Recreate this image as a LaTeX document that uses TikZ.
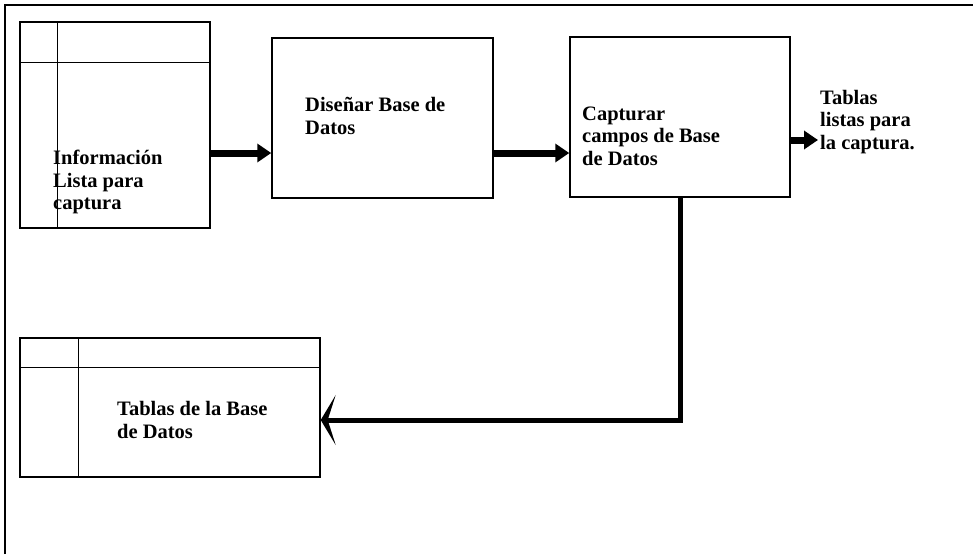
\documentclass[tikz,border=0pt]{standalone}
\usepackage{fontspec}
\setmainfont{Liberation Serif}
\usetikzlibrary{arrows.meta,positioning,calc}
\tikzset{
  procbox/.style={draw=black, line width=1.5pt, inner sep=0pt},
  tablebox/.style={draw=black, line width=1.4pt, inner sep=0pt},
  divider/.style={line width=1pt},
  lbl/.style={align=left, inner sep=0pt, font=\bfseries\fontsize{20.5}{22.5}\selectfont},
  bigarrow/.style={-{Triangle[length=14pt,width=18pt]}, line width=7pt},
  backarrow/.style={-{Stealth[length=15pt,width=50pt,inset=8pt]}, line width=5pt},
  frameline/.style={line width=1.3pt}
}

\begin{document}
\begin{tikzpicture}[x=1pt,y=-1pt]
\useasboundingbox (0,0) rectangle (973,554);
\draw[frameline] (5,554) -- (5,5) -- (973,5);
% tablas
\node[tablebox, minimum width=190pt, minimum height=206pt] (tab1) at (115,125) {};
\draw[divider] (57,22) -- (57,228);
\draw[divider] (20,62) -- (210,62);
\node[lbl, anchor=west] (txt1) at (53,182) {Información\\Lista para\\captura};
\node[tablebox, minimum width=300pt, minimum height=139pt] (tab2) at (170,407.5) {};
\draw[divider] (78,338) -- (78,477);
\draw[divider] (20,367) -- (320,367);
\node[lbl, anchor=west] (txt2) at (117,420) {Tablas de la Base\\de Datos};
% procesos
\node[procbox, minimum width=221pt, minimum height=160pt] (box2) at (382.5,118) {};
\node[lbl, anchor=west] (txt3) at (305,116) {Diseñar Base de\\Datos};
\node[procbox, minimum width=220pt, minimum height=160pt] (box3) at (680,117) {};
\node[lbl, anchor=west] (txt4) at (582,136) {Capturar\\campos de Base\\de Datos};
\node[lbl, anchor=west] (out) at (820,122) {Tablas\\listas para\\la captura.};
% flechas
\draw[bigarrow] (tab1.east |- 0,153) -- (box2.west |- 0,153);
\draw[bigarrow] (box2.east |- 0,153) -- (box3.west |- 0,153);
\draw[bigarrow] (box3.east |- 0,140) -- ([xshift=-2pt]out.west |- 0,140);
\draw[backarrow] (box3.south) |- (tab2.east |- 0,420);
\end{tikzpicture}
\end{document}
